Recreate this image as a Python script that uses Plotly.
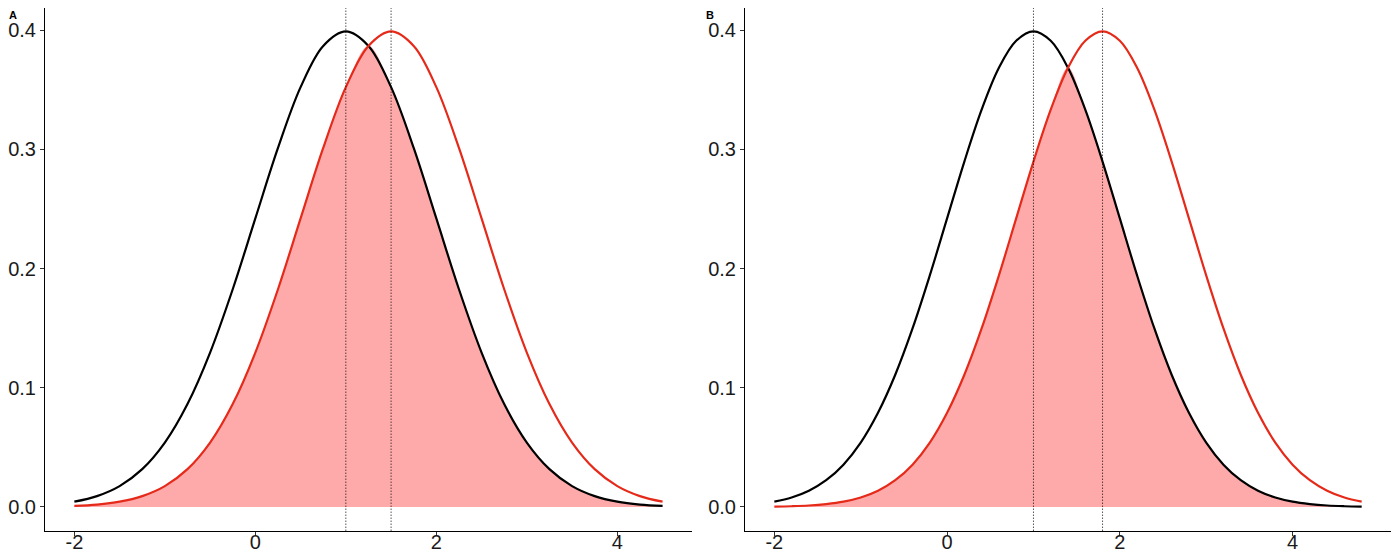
"""
two overlapping normal curves, shaded overlap, panels A and B.
"""
import plotly.graph_objs as go
from plotly.subplots import make_subplots

# panel A: x grid and densities
x_a = [-2.0, -1.75, -1.5, -1.25, -1.0, -0.75, -0.5, -0.25, 0.0, 0.25, 0.5, 0.75, 1.0,
       1.25, 1.5, 1.75, 2.0, 2.25, 2.5, 2.75, 3.0, 3.25, 3.5, 3.75, 4.0, 4.25, 4.5]
black_a = [0.0044, 0.0091, 0.0175, 0.0317, 0.0540, 0.0863, 0.1295, 0.1826, 0.2420, 0.3011,
           0.3521, 0.3867, 0.3989, 0.3867, 0.3521, 0.3011, 0.2420, 0.1826, 0.1295, 0.0863,
           0.0540, 0.0317, 0.0175, 0.0091, 0.0044, 0.0020, 0.0009]
red_a = [0.0009, 0.0020, 0.0044, 0.0091, 0.0175, 0.0317, 0.0540, 0.0863, 0.1295, 0.1826,
         0.2420, 0.3011, 0.3521, 0.3867, 0.3989, 0.3867, 0.3521, 0.3011, 0.2420, 0.1826,
         0.1295, 0.0863, 0.0540, 0.0317, 0.0175, 0.0091, 0.0044]
means_a = [1.0, 1.5]

# panel B
x_b = [-2.0, -1.8, -1.6, -1.4, -1.2, -1.0, -0.8, -0.6, -0.4, -0.2, 0.0, 0.2, 0.4, 0.6, 0.8,
       1.0, 1.2, 1.4, 1.6, 1.8, 2.0, 2.2, 2.4, 2.6, 2.8, 3.0, 3.2, 3.4, 3.6, 3.8, 4.0, 4.2,
       4.4, 4.6, 4.8]
black_b = [0.0044, 0.0079, 0.0136, 0.0224, 0.0355, 0.0540, 0.0790, 0.1109, 0.1497, 0.1942,
           0.2420, 0.2897, 0.3332, 0.3683, 0.3910, 0.3989, 0.3910, 0.3683, 0.3332, 0.2897,
           0.2420, 0.1942, 0.1497, 0.1109, 0.0790, 0.0540, 0.0355, 0.0224, 0.0136, 0.0079,
           0.0044, 0.0024, 0.0012, 0.0006, 0.0003]
red_b = [0.0003, 0.0006, 0.0012, 0.0024, 0.0044, 0.0079, 0.0136, 0.0224, 0.0355, 0.0540,
         0.0790, 0.1109, 0.1497, 0.1942, 0.2420, 0.2897, 0.3332, 0.3683, 0.3910, 0.3989,
         0.3910, 0.3683, 0.3332, 0.2897, 0.2420, 0.1942, 0.1497, 0.1109, 0.0790, 0.0540,
         0.0355, 0.0224, 0.0136, 0.0079, 0.0044]
means_b = [1.0, 1.8]

panel_labels = ["A", "B"]
tick_vals_x = [-2, 0, 2, 4]
tick_text_x = ["-2", "0", "2", "4"]
tick_vals_y = [0.0, 0.1, 0.2, 0.3, 0.4]
tick_text_y = ["0.0", "0.1", "0.2", "0.3", "0.4"]

RED = "#E52A1A"
FILL = "#FFAAAA"

fig = make_subplots(rows=1, cols=2)

panels = [(x_a, black_a, red_a, means_a), (x_b, black_b, red_b, means_b)]
for i, (xs, blk, rd, means) in enumerate(panels):
    col = i + 1
    overlap = [min(b, r) for b, r in zip(blk, rd)]
    fig.add_trace(go.Scatter(x=xs, y=overlap, mode="lines", fill="tozeroy",
                             fillcolor=FILL, line=dict(width=0, shape="spline"),
                             showlegend=False, hoverinfo="skip"), row=1, col=col)
    fig.add_trace(go.Scatter(x=xs, y=blk, mode="lines",
                             line=dict(color="black", width=2.2, shape="spline"),
                             showlegend=False), row=1, col=col)
    fig.add_trace(go.Scatter(x=xs, y=rd, mode="lines",
                             line=dict(color=RED, width=2.2, shape="spline"),
                             showlegend=False), row=1, col=col)
    xref = "x" if col == 1 else "x2"
    yref = "y domain" if col == 1 else "y2 domain"
    for m in means:
        fig.add_shape(type="line", x0=m, x1=m, y0=0, y1=1, xref=xref, yref=yref,
                      line=dict(color="black", width=1, dash="1px,2px"))
    lo, hi = xs[0], xs[-1]
    pad = 0.05 * (hi - lo)
    fig.update_xaxes(range=[lo - pad, hi + pad], row=1, col=col)

font = dict(family="Liberation Sans, Arial", size=20, color="#1a1a1a")
axis_style = dict(showline=True, linecolor="black", linewidth=1, showgrid=False,
                  zeroline=False, ticks="outside", ticklen=4, tickcolor="#333",
                  tickfont=font, automargin=False)
fig.update_xaxes(tickvals=tick_vals_x, ticktext=tick_text_x, ticklabelstandoff=-11,
                 **axis_style)
fig.update_yaxes(tickvals=tick_vals_y, ticktext=tick_text_y, range=[-0.0199, 0.4185],
                 ticklabelstandoff=0, **axis_style)

# page body adds an 8px margin, so the figure is 16px smaller than the window
fig.update_layout(
    width=1384, height=544,
    margin=dict(l=0, r=0, t=0, b=0),
    paper_bgcolor="white", plot_bgcolor="white",
    xaxis=dict(domain=[0.0267, 0.4942]),
    xaxis2=dict(domain=[0.5325, 0.9993]),
    yaxis=dict(domain=[0.0392, 1.0]),
    yaxis2=dict(domain=[0.0392, 1.0]),
)

for lbl, xp in zip(panel_labels, [0.0, 0.5036]):
    fig.add_annotation(text="<b>%s</b>" % lbl, x=xp, y=1.0, xref="paper", yref="paper",
                       xanchor="left", yanchor="top", showarrow=False, borderpad=0,
                       font=dict(family="Liberation Sans, Arial", size=11, color="black"))

fig.write_html("out.html")
